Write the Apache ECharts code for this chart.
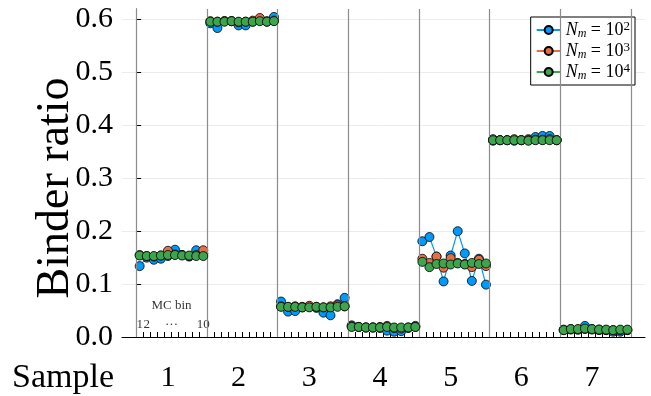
<!DOCTYPE html>
<html><head><meta charset="utf-8">
<script src="https://cdn.jsdelivr.net/npm/echarts@6/dist/echarts.min.js"></script>
<style>html,body{margin:0;padding:0;background:#fff}#c{width:651px;height:396px}</style>
</head><body><div id="c"></div>
<script>
// ---- data ----
const samples = ['1', '2', '3', '4', '5', '6', '7'];
const binsPerSample = 10;
const yTickValues = [0, 0.1, 0.2, 0.3, 0.4, 0.5, 0.6];
const seriesExponents = ['2', '3', '4'];

// N_m = 10^2
const binder1e2 = [
  0.134, 0.150, 0.146, 0.148, 0.153, 0.165, 0.155, 0.152, 0.164, 0.158,
  0.593, 0.584, 0.597, 0.597, 0.589, 0.589, 0.596, 0.598, 0.596, 0.605,
  0.067, 0.048, 0.049, 0.056, 0.057, 0.055, 0.046, 0.041, 0.062, 0.074,
  0.022, 0.019, 0.018, 0.018, 0.017, 0.012, 0.010, 0.011, 0.017, 0.021,
  0.181, 0.189, 0.152, 0.105, 0.154, 0.200, 0.158, 0.106, 0.148, 0.099,
  0.371, 0.372, 0.372, 0.371, 0.372, 0.374, 0.378, 0.380, 0.380, 0.372,
  0.013, 0.014, 0.014, 0.021, 0.015, 0.013, 0.013, 0.010, 0.010, 0.013
];
// N_m = 10^3
const binder1e3 = [
  0.155, 0.153, 0.152, 0.154, 0.163, 0.156, 0.155, 0.153, 0.155, 0.164,
  0.597, 0.596, 0.597, 0.597, 0.595, 0.596, 0.598, 0.603, 0.597, 0.598,
  0.058, 0.057, 0.058, 0.057, 0.059, 0.057, 0.056, 0.058, 0.060, 0.058,
  0.020, 0.019, 0.018, 0.018, 0.019, 0.021, 0.017, 0.016, 0.018, 0.019,
  0.148, 0.140, 0.152, 0.131, 0.149, 0.140, 0.138, 0.132, 0.146, 0.134,
  0.374, 0.372, 0.372, 0.374, 0.372, 0.372, 0.373, 0.373, 0.374, 0.372,
  0.014, 0.015, 0.014, 0.015, 0.014, 0.014, 0.013, 0.013, 0.013, 0.013
];
// N_m = 10^4
const binder1e4 = [
  0.154, 0.153, 0.153, 0.154, 0.155, 0.155, 0.154, 0.154, 0.153, 0.153,
  0.596, 0.596, 0.596, 0.597, 0.596, 0.596, 0.596, 0.597, 0.596, 0.597,
  0.057, 0.057, 0.057, 0.056, 0.056, 0.057, 0.056, 0.056, 0.057, 0.058,
  0.019, 0.019, 0.018, 0.018, 0.018, 0.019, 0.018, 0.018, 0.018, 0.019,
  0.142, 0.132, 0.138, 0.139, 0.137, 0.139, 0.137, 0.140, 0.138, 0.139,
  0.372, 0.372, 0.372, 0.372, 0.372, 0.371, 0.372, 0.372, 0.372, 0.372,
  0.013, 0.015, 0.015, 0.016, 0.015, 0.014, 0.014, 0.013, 0.014, 0.014
];
// MC-bin annotation labels (bin index within a sample)
const mcBinLabels = [['1', 1], ['2', 2], ['···', 5.5], ['10', 10]];

// ---- build ----
const FONT = 'Liberation Serif';
const colors = ['#009AFA', '#E36F47', '#3EA44E'];
const allValues = [binder1e2, binder1e3, binder1e4];
const nSamples = samples.length;

function toSeriesData(vals) {
  const out = [];
  for (let g = 0; g < nSamples; g++) {
    for (let j = 0; j < binsPerSample; j++) {
      const p = g * binsPerSample + j;
      out.push([p + 0.5, vals[p]]);
    }
    out.push([(g + 1) * binsPerSample, '-']);
  }
  return out;
}
const names = seriesExponents.map(e => 'N_m = 10^' + e);
const boundaries = [];
for (let g = 0; g <= nSamples; g++) boundaries.push(g * binsPerSample);
const minorTicks = [];
for (let p = 0; p <= nSamples * binsPerSample; p++) minorTicks.push(p);
const labelPos = samples.map((s, g) => g * binsPerSample + 4.5);

const series = allValues.map((vals, i) => ({
  name: names[i],
  type: 'line',
  data: toSeriesData(vals),
  connectNulls: false,
  symbol: 'circle',
  symbolSize: 9,
  lineStyle: { color: colors[i], width: 1.2 },
  itemStyle: { color: colors[i], borderColor: '#000', borderWidth: 0.8 },
  z: 3 + i
}));
// separators
series.unshift({
  name: 'sep', type: 'line', data: [], silent: true, z: 1,
  markLine: {
    silent: true, symbol: 'none', label: { show: false },
    lineStyle: { color: '#8c8c8c', width: 1.2, type: 'solid' },
    data: boundaries.map(b => ({ xAxis: b }))
  }
});
// MC bin annotation
series.push({
  name: 'mc', type: 'scatter', silent: true, symbolSize: 0, z: 2,
  data: mcBinLabels.map(([t, b]) => ({ value: [b - 0.5, 0.023], name: t })).concat(
        [{ value: [5, 0.060], name: 'MC bin' }]),
  label: { show: true, position: 'inside', formatter: p => p.name,
           fontFamily: FONT, fontSize: 13, color: '#000' }
});

const chart = echarts.init(document.getElementById('c'), null, { renderer: 'canvas' });
chart.setOption({
  animation: false,
  backgroundColor: '#fff',
  grid: { left: 122, right: 6, top: 9, bottom: 59 },
  xAxis: {
    type: 'value', min: -2, max: 72,
    axisLine: { show: true, onZero: false, lineStyle: { color: '#000', width: 1 } },
    axisTick: { show: true, inside: true, length: 5, customValues: minorTicks,
                lineStyle: { color: '#000', width: 1 } },
    axisLabel: { show: true, customValues: labelPos, margin: 26,
                 formatter: v => samples[Math.round((v - 4.5) / binsPerSample)],
                 fontFamily: FONT, fontSize: 30, color: '#000' },
    splitLine: { show: false }
  },
  yAxis: {
    type: 'value', min: 0, max: 0.62,
    axisLine: { show: true, lineStyle: { color: '#000', width: 1 } },
    axisTick: { show: true, inside: true, length: 5, customValues: yTickValues,
                lineStyle: { color: '#000' } },
    axisLabel: { customValues: yTickValues, formatter: v => v.toFixed(1), margin: 9,
                 fontFamily: FONT, fontSize: 30, color: '#000' },
    splitLine: { show: true, lineStyle: { color: '#ececec', width: 1 } }
  },
  legend: {
    data: names,
    orient: 'vertical', right: 16, top: 17,
    backgroundColor: '#fff', borderColor: '#000', borderWidth: 1,
    padding: [3, 5, 3, 5], itemGap: 1, itemWidth: 24, itemHeight: 10,
    formatter: n => '{n|N}{s|m}{e| = 10}{p|' + n.slice(-1) + '}',
    textStyle: {
      fontFamily: FONT, fontSize: 18, color: '#000',
      rich: {
        n: { fontFamily: FONT, fontStyle: 'italic', fontSize: 18, lineHeight: 20 },
        s: { fontFamily: FONT, fontStyle: 'italic', fontSize: 12, lineHeight: 12, verticalAlign: 'bottom' },
        e: { fontFamily: FONT, fontSize: 18, lineHeight: 20 },
        p: { fontFamily: FONT, fontSize: 13, lineHeight: 12, verticalAlign: 'top' }
      }
    }
  },
  graphic: [{
    type: 'text', left: 12, top: 361,
    style: { text: 'Sample', fontFamily: FONT, fontSize: 34, fill: '#000' }
  }, {
    type: 'text', x: 56, y: 188, rotation: Math.PI / 2,
    style: { text: 'Binder ratio', fontFamily: FONT, fontSize: 46, fill: '#000',
             textAlign: 'center', textVerticalAlign: 'middle' }
  }],
  series: series
});
</script>
</body></html>
